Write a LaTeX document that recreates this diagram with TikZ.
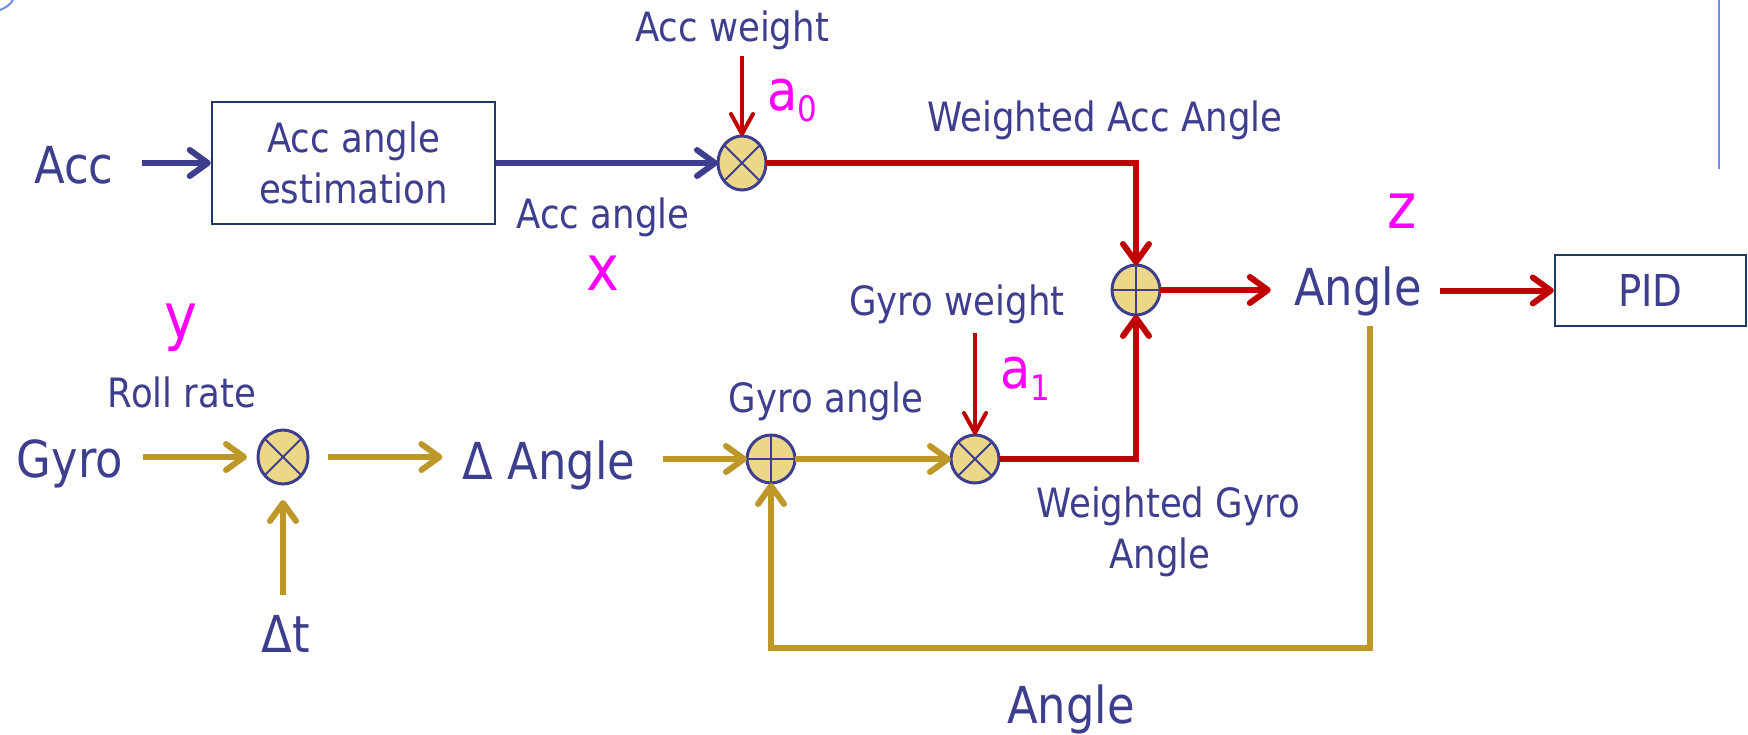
\documentclass[tikz,border=0pt]{standalone}
\usepackage{fontspec}
\setmainfont{DejaVu Sans}[FakeStretch=0.88]
\newfontfamily\magfont{DejaVu Sans}[FakeStretch=0.88]
\usetikzlibrary{arrows.meta,shapes.geometric}
\definecolor{ink}{RGB}{62,62,142}
\definecolor{wred}{RGB}{192,0,0}
\definecolor{wgold}{RGB}{189,152,40}
\definecolor{jfill}{RGB}{235,215,135}
\definecolor{vmag}{RGB}{255,0,255}
\definecolor{boxline}{RGB}{31,56,100}
\definecolor{slideblue}{RGB}{110,140,240}
\tikzset{
  lbl/.style={anchor=base, text=ink, font=\fontsize{23}{29}\selectfont, inner sep=0pt},
  big/.style={anchor=base, text=ink, font=\fontsize{29}{34}\selectfont, inner sep=0pt},
  vlab/.style={anchor=base, text=vmag, font=\magfont\fontsize{36}{40}\selectfont, inner sep=0pt},
  wt/.style={anchor=base west, text=vmag, font=\magfont\fontsize{32}{36}\selectfont, inner sep=0pt},
  junc/.style={ellipse, draw=ink, fill=jfill, line width=0.06cm, inner sep=0pt, outer sep=0pt,
               minimum width=0.96cm, minimum height=1.04cm},
  blk/.style={rectangle, draw=boxline, line width=0.05cm, inner sep=0pt, text=ink},
  jline/.style={draw=ink, line width=0.04cm},
  wire/.style={line width=0.12cm},
  wthin/.style={line width=0.08cm},
  arr/.style={-{Straight Barb[round,length=0.36cm,width=0.52cm]}},
  arrt/.style={-{Straight Barb[round,length=0.4cm,width=0.44cm]}},
}
\begin{document}
\begin{tikzpicture}[x=0.02cm,y=-0.02cm]
\useasboundingbox (0,0) rectangle (1748,734);

% slide decorations
\draw[slideblue, line width=0.04cm] (0,10) .. controls (5,8) and (10,5) .. (13,0);
\draw[slideblue, line width=0.04cm] (1719,0) -- (1719,169);

% blocks and junctions
\node[big] (acc) at (74,183) {Acc};
\node[blk, minimum width=5.66cm, minimum height=2.44cm, align=center,
      font=\fontsize{23}{29}\selectfont] (est) at (353.5,163) {Acc angle\\estimation};
\node[junc, minimum height=1.08cm] (m0) at (742,163) {};
\node[junc, minimum height=1.0cm] (s0) at (1136,290) {};
\node[junc, minimum width=1.0cm, minimum height=1.08cm] (m1) at (283,457) {};
\node[junc, minimum height=0.96cm] (s1) at (771,459) {};
\node[junc, minimum height=0.96cm] (m2) at (975,459) {};
\node[big] (ang) at (1358,305) {Angle};
\node[blk, minimum width=3.82cm, minimum height=1.42cm,
      font=\fontsize{25}{30}\selectfont] (pid) at (1650.5,290.5) {PID};
\node[big] (gyro) at (70,477) {Gyro};
\node[big] (dang) at (549,479) {Δ Angle};
\node[big] (dt) at (286,652) {Δt};
\node[big] (fbl) at (1071,723) {Angle};

% signal labels
\node[lbl] (aw) at (732,41) {Acc weight};
\node[lbl] (wacc) at (1105,131) {Weighted Acc Angle};
\node[lbl] (accang) at (603,228) {Acc angle};
\node[lbl] (roll) at (182,407) {Roll rate};
\node[lbl] (gang) at (826,412) {Gyro angle};
\node[lbl] (gw) at (957,315) {Gyro weight};
\node[lbl] (wg1) at (1168,517) {Weighted Gyro};
\node[lbl] (wg2) at (1160,568) {Angle};

% variable names
\node[vlab] (vx) at (603,290) {x};
\node[vlab] (vy) at (181,338) {y};
\node[vlab] (vz) at (1402,228) {z};
\node[wt] (a0) at (767,110) {a\raisebox{-0.24cm}{\fontsize{20}{20}\selectfont 0}};
\node[wt] (a1) at (1000,388) {a\raisebox{-0.24cm}{\fontsize{20}{20}\selectfont 1}};

% multiplier and summer symbols
\foreach \j in {m0,m1,m2}
  \draw[jline] (\j.45) -- (\j.225) (\j.135) -- (\j.315);
\foreach \j in {s0,s1}
  \draw[jline] (\j.north) -- (\j.south) (\j.west) -- (\j.east);

% accelerometer path
\draw[wire, ink, arr, shorten <=0.56cm] (acc.east |- est.west) -- (est.west);
\draw[wire, ink, arr] (est.east) -- (m0.west);
\draw[wthin, wred, arrt, shorten <=0.13cm] (aw.south -| m0.north) -- (m0.north);
\draw[wire, wred, arr] (m0.east) -| (s0.north);

% output
\draw[wire, wred, arr, shorten >=0.46cm] (s0.east) -- (s0.east -| ang.west);
\draw[wire, wred, arr, shorten <=0.36cm] (ang.east |- pid.west) -- (pid.west);

% gyro path
\draw[wire, wgold, arr, shorten <=0.4cm, shorten >=0.22cm] (gyro.east |- m1.west) -- (m1.west);
\draw[wire, wgold, arr, shorten <=0.4cm, shorten >=0.4cm] (m1.east) -- (m1.east -| dang.west);
\draw[wire, wgold, arr, shorten <=0.4cm, shorten >=0.32cm] (dt.north -| m1.south) -- (m1.south);
\draw[wire, wgold, arr, shorten <=0.54cm] (dang.east |- s1.west) -- (s1.west);
\draw[wire, wgold, arr] (s1.east) -- (m2.west);
\draw[wthin, wred, arrt, shorten <=0.19cm] (gw.south -| m2.north) -- (m2.north);
\draw[wire, wred, arr] (m2.east) -| (s0.south);

% feedback of the fused angle
\coordinate (fbc) at (1370,648);
\draw[wire, wgold, arr, shorten <=0.2cm] (fbc |- ang.south) -- (fbc) -| (s1.south);
\end{tikzpicture}
\end{document}
